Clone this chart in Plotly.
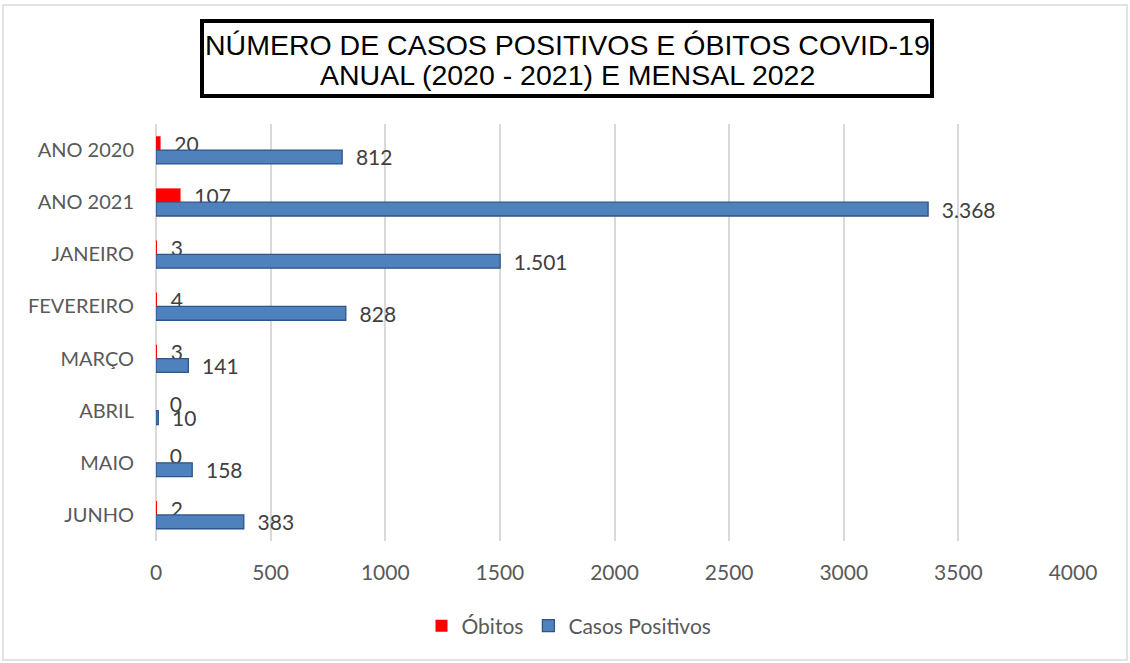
import plotly.graph_objects as go

categories = ["ANO 2020", "ANO 2021", "JANEIRO", "FEVEREIRO", "MARÇO", "ABRIL", "MAIO", "JUNHO"]
obitos = [20, 107, 3, 4, 3, 0, 0, 2]
casos = [812, 3368, 1501, 828, 141, 10, 158, 383]
title_lines = ["NÚMERO DE CASOS POSITIVOS E ÓBITOS COVID-19", "ANUAL (2020 - 2021) E MENSAL 2022"]

W, H = 1130, 663
ML, MR, MT, MB = 156, 57, 124, 122
pw, ph = W - ML - MR, H - MT - MB

def px(x):
    return (x - ML) / pw

def py(y):
    return (H - MB - y) / ph

font_fam = "Lato, Open Sans, sans-serif"
pad = "\u00a0\u00a0"

fig = go.Figure()
fig.add_trace(go.Bar(
    y=categories, x=obitos, orientation="h", name="Óbitos",
    marker=dict(color="#ff0000", line=dict(width=0)),
    text=obitos, texttemplate=pad + "%{x:,}", textposition="outside", constraintext="none",
    textfont=dict(size=21, color="#404040", family=font_fam), cliponaxis=False,
))
fig.add_trace(go.Bar(
    y=categories, x=casos, orientation="h", name="Casos Positivos",
    marker=dict(color="#4f81bd", line=dict(width=1.3, color="#2c5589")),
    text=casos, texttemplate=pad + "%{x:,}", textposition="outside", constraintext="none",
    textfont=dict(size=21, color="#404040", family=font_fam), cliponaxis=False,
))

shapes = [
    dict(type="rect", xref="paper", yref="paper", x0=px(3), x1=px(1127), y0=py(5), y1=py(660),
         line=dict(color="#d9d9d9", width=1.5), fillcolor="rgba(0,0,0,0)", layer="below"),
    dict(type="rect", xref="paper", yref="paper", x0=px(202), x1=px(932), y0=py(21), y1=py(96),
         line=dict(color="#000000", width=4), fillcolor="white"),
]
tfont = dict(family="Liberation Sans Narrow, Arial Narrow, Liberation Sans, Arial", size=28.5, color="#000")
annotations = [
    dict(text=title_lines[0], xref="paper", yref="paper", x=px(567), y=py(45), showarrow=False,
         xanchor="center", yanchor="middle", font=tfont),
    dict(text=title_lines[1], xref="paper", yref="paper", x=px(567), y=py(75), showarrow=False,
         xanchor="center", yanchor="middle", font=tfont),
]

fig.update_layout(
    width=W, height=H,
    margin=dict(l=ML, r=MR, t=MT, b=MB),
    paper_bgcolor="white", plot_bgcolor="white",
    barmode="group", bargap=0.47, bargroupgap=0.0,
    separators=",.",
    shapes=shapes, annotations=annotations,
    showlegend=True,
    legend=dict(orientation="h", x=px(569), xanchor="center", y=py(626), yanchor="middle",
                itemwidth=30,
                font=dict(family=font_fam, size=21, color="#595959"), traceorder="normal"),
    xaxis=dict(range=[0, 4000], dtick=500, showgrid=True, gridcolor="#d9d9d9", gridwidth=1.5,
               zeroline=True, zerolinecolor="#d9d9d9", zerolinewidth=1.5, automargin=False,
               tickfont=dict(family=font_fam, size=21, color="#595959"), ticks="", showline=False,
               ticklabelstandoff=17),
    yaxis=dict(autorange="reversed", tickfont=dict(family=font_fam, size=20, color="#595959"),
               ticks="", showline=False, showgrid=False, ticklabelstandoff=21, automargin=False),
)

fig.write_html("out.html", config={"displayModeBar": False},
               post_script="document.body.style.margin='0px';")
